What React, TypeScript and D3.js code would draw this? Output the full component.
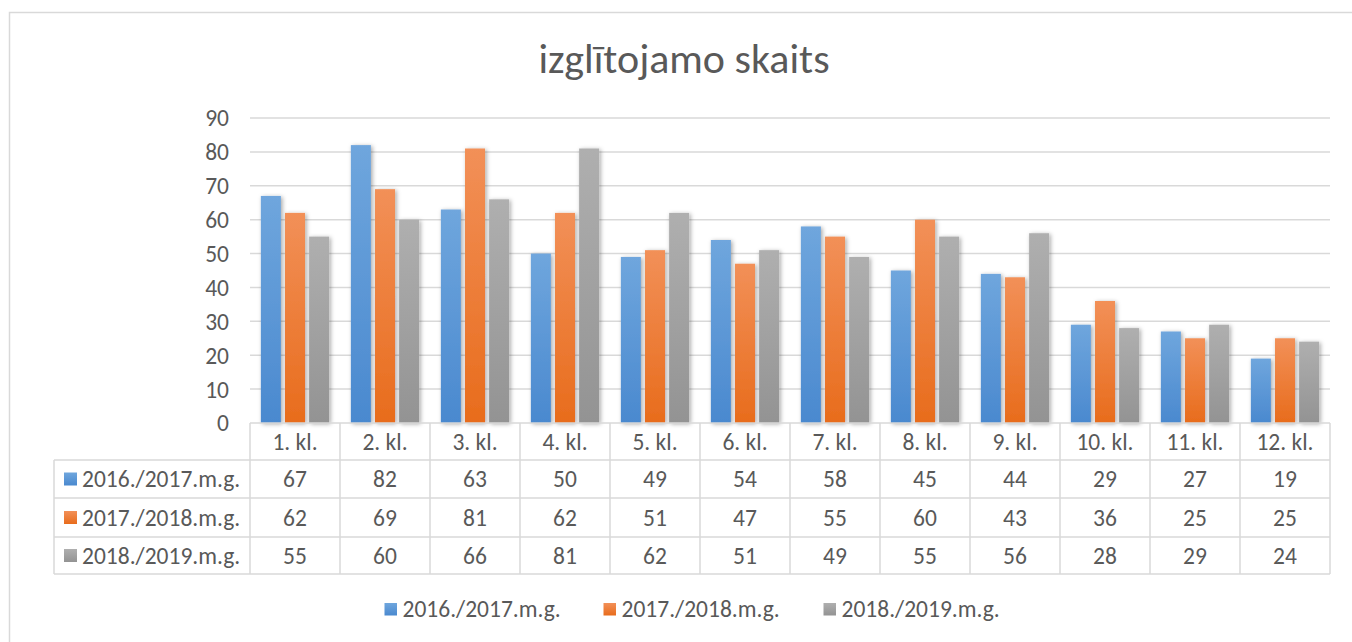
import React, { useRef, useEffect } from "react";
import * as d3 from "d3";

const categories = ["1. kl.", "2. kl.", "3. kl.", "4. kl.", "5. kl.", "6. kl.", "7. kl.", "8. kl.", "9. kl.", "10. kl.", "11. kl.", "12. kl."];
const seriesNames = ["2016./2017.m.g.", "2017./2018.m.g.", "2018./2019.m.g."];
const values2016 = [67, 82, 63, 50, 49, 54, 58, 45, 44, 29, 27, 19];
const values2017 = [62, 69, 81, 62, 51, 47, 55, 60, 43, 36, 25, 25];
const values2018 = [55, 60, 66, 81, 62, 51, 49, 55, 56, 28, 29, 24];
const yTicks = [0, 10, 20, 30, 40, 50, 60, 70, 80, 90];
const title = "izglītojamo skaits";

const App = () => {
  const ref = useRef<SVGSVGElement>(null);

  useEffect(() => {
    const width = 1352;
    const height = 642;
    const font = "Carlito, Calibri, Lato, sans-serif";
    const textColor = "#595959";
    const lineColor = "#d9d9d9";
    const series = [values2016, values2017, values2018];
    const grads = [
      ["#6fa6dd", "#4a89cf"],
      ["#f29058", "#e86c1c"],
      ["#afafaf", "#939393"],
    ];

    const left = 250;
    const right = 1330;
    const tableLeft = 54;
    const rowEdges = [423, 460, 498, 537, 574];

    const x = d3.scaleBand().domain(categories).range([left, right]).paddingInner(0).paddingOuter(0);
    const xs = d3.scaleBand().domain(seriesNames).range([0, x.bandwidth()]).paddingInner(0.17).paddingOuter(0.45);
    const y = d3.scaleLinear().domain([0, 90]).range([423, 118]);

    const svg = d3.select(ref.current).attr("width", width).attr("height", height);
    svg.selectAll("*").remove();

    const defs = svg.append("defs");
    grads.forEach((g, i) => {
      const lg = defs.append("linearGradient").attr("id", `grad${i}`).attr("x1", 0).attr("y1", 0).attr("x2", 0).attr("y2", 1);
      lg.append("stop").attr("offset", "0%").attr("stop-color", g[0]);
      lg.append("stop").attr("offset", "100%").attr("stop-color", g[1]);
    });
    defs
      .append("filter")
      .attr("id", "shadow")
      .attr("x", "-30%")
      .attr("y", "-10%")
      .attr("width", "160%")
      .attr("height", "120%")
      .append("feDropShadow")
      .attr("dx", 1.5)
      .attr("dy", 1)
      .attr("stdDeviation", 2)
      .attr("flood-color", "#000")
      .attr("flood-opacity", 0.35);

    // chart area border
    svg
      .append("rect")
      .attr("x", 9.5)
      .attr("y", 12.5)
      .attr("width", 1400)
      .attr("height", 700)
      .attr("fill", "#fff")
      .attr("stroke", lineColor)
      .attr("stroke-width", 1.5);

    svg
      .append("text")
      .attr("x", 684)
      .attr("y", 73)
      .attr("text-anchor", "middle")
      .style("font-family", font)
      .style("font-size", "42px")
      .style("fill", textColor)
      .text(title);

    // gridlines + tick labels
    const grid = svg.append("g");
    grid
      .selectAll("line")
      .data(yTicks.filter((t) => t > 0))
      .enter()
      .append("line")
      .attr("x1", left)
      .attr("x2", right)
      .attr("y1", (d) => y(d))
      .attr("y2", (d) => y(d))
      .attr("stroke", lineColor)
      .attr("stroke-width", 1.5);
    grid
      .selectAll("text")
      .data(yTicks)
      .enter()
      .append("text")
      .attr("x", 229)
      .attr("y", (d) => y(d))
      .attr("dy", "0.36em")
      .attr("text-anchor", "end")
      .style("font-family", font)
      .style("font-size", "23.5px")
      .style("fill", textColor)
      .text((d) => d);

    // bars
    series.forEach((vals, si) => {
      svg
        .append("g")
        .selectAll("rect")
        .data(vals)
        .enter()
        .append("rect")
        .attr("x", (d, i) => x(categories[i])! + xs(seriesNames[si])!)
        .attr("y", (d) => y(d))
        .attr("width", xs.bandwidth())
        .attr("height", (d) => y(0) - y(d))
        .attr("fill", `url(#grad${si})`)
        .attr("filter", "url(#shadow)");
    });

    // data table
    const table = svg.append("g");
    const line = (x1: number, y1: number, x2: number, y2: number) =>
      table
        .append("line")
        .attr("x1", x1)
        .attr("y1", y1)
        .attr("x2", x2)
        .attr("y2", y2)
        .attr("stroke", lineColor)
        .attr("stroke-width", 1.5);

    line(left, rowEdges[0], right, rowEdges[0]);
    rowEdges.slice(1).forEach((ry) => line(tableLeft, ry, right, ry));
    line(tableLeft, rowEdges[1], tableLeft, rowEdges[4]);
    categories.forEach((c) => line(x(c)!, rowEdges[0], x(c)!, rowEdges[4]));
    line(right, rowEdges[0], right, rowEdges[4]);

    const cellText = (tx: number, ty: number, s: string | number, anchor = "middle") =>
      table
        .append("text")
        .attr("x", tx)
        .attr("y", ty)
        .attr("dy", "0.36em")
        .attr("text-anchor", anchor)
        .style("font-family", font)
        .style("font-size", "23.5px")
        .style("fill", textColor)
        .text(s);

    categories.forEach((c) => cellText(x(c)! + x.bandwidth() / 2, (rowEdges[0] + rowEdges[1]) / 2, c));
    series.forEach((vals, si) => {
      const cy = (rowEdges[si + 1] + rowEdges[si + 2]) / 2;
      table
        .append("rect")
        .attr("x", 64)
        .attr("y", cy - 6.5)
        .attr("width", 13)
        .attr("height", 13)
        .attr("fill", `url(#grad${si})`);
      cellText(82, cy, seriesNames[si], "start");
      vals.forEach((v, i) => cellText(x(categories[i])! + x.bandwidth() / 2, cy, v));
    });

    // legend
    const legendX = [384.5, 603.5, 823.5];
    const legend = svg.append("g");
    seriesNames.forEach((name, si) => {
      legend
        .append("rect")
        .attr("x", legendX[si])
        .attr("y", 603)
        .attr("width", 12.5)
        .attr("height", 12.5)
        .attr("fill", `url(#grad${si})`);
      legend
        .append("text")
        .attr("x", legendX[si] + 18)
        .attr("y", 609)
        .attr("dy", "0.36em")
        .style("font-family", font)
        .style("font-size", "23.5px")
        .style("fill", textColor)
        .text(name);
    });
  }, []);

  return <svg ref={ref} style={{ position: "absolute", left: 0, top: 0, display: "block" }}></svg>;
};

export default App;
